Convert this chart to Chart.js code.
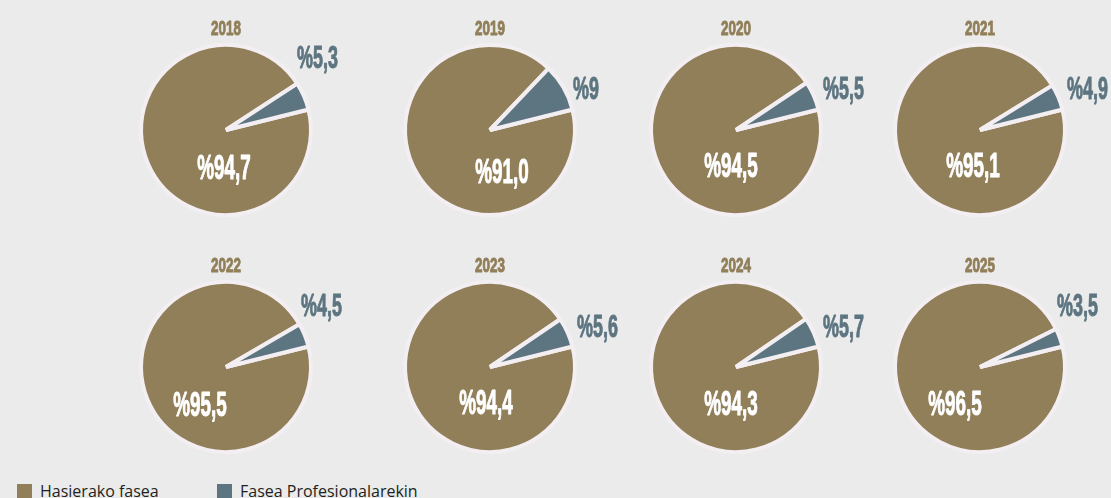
<!DOCTYPE html>
<html lang="eu">
<head>
<meta charset="utf-8">
<title>Hasierako fasea / Fasea Profesionalarekin</title>
<script src="https://cdn.jsdelivr.net/npm/chart.js@4.4.1/dist/chart.umd.min.js"></script>
<style>
    html, body { margin: 0; padding: 0; background: #ebebeb; }
    #oihala { position: relative; width: 1111px; height: 498px; overflow: hidden; }
    .tarta { position: absolute; width: 280px; height: 260px; }
    .legenda { position: absolute; top: 481px; left: 17px; font: 16px "Open Sans", sans-serif; color: #231f20; }
    .legenda span { position: absolute; white-space: nowrap; line-height: 20px; }
    .legenda i { display: inline-block; width: 15px; height: 15px; margin-right: 8px; vertical-align: -2px; }
</style>
</head>
<body>
<div id="oihala">
    <div class="legenda" id="legenda"></div>
</div>
<script>
// Datuak
const urteak = ['2018', '2019', '2020', '2021', '2022', '2023', '2024', '2025'];
const kategoriak = ['Hasierako fasea', 'Fasea Profesionalarekin'];
const hasierakoFasea = [94.7, 91.0, 94.5, 95.1, 95.5, 94.4, 94.3, 96.5];
const faseaProfesionala = [5.3, 9, 5.5, 4.9, 4.5, 5.6, 5.7, 3.5];

// Koloreak
const kolHasiera = '#917f59';
const kolProf = '#5d7580';
const kolErtza = '#f3eef1';

// Kokapenak (tarten zentroak eta etiketen desplazamenduak)
const zentroakX = [226, 490, 736, 980];
const zentroakY = [130, 367];
const etiketaNagusia = [[-2, 36], [12, 40], [-5, 34], [-7, 34], [-26, 36], [-4, 34], [-5, 35], [-25, 35]];
const etiketaTxikia = [[71, -73], [83, -42], [87, -42], [87, -42], [75, -62], [87, -41], [87, -41], [77, -62]];

function formatua(balioa, hamartarra) {
    const s = hamartarra ? balioa.toFixed(1) : String(balioa);
    return '%' + s.replace('.', ',');
}

// Testu estutua marraztu (letra-tipo kondentsatua imitatzeko)
function idatziTestua(ctx, testua, x, y, tamaina, eskala, kolorea, lerrokatzea) {
    ctx.save();
    ctx.translate(x, y);
    ctx.scale(eskala, 1);
    ctx.font = 'bold ' + tamaina + 'px "Liberation Sans", Arial, sans-serif';
    ctx.textAlign = lerrokatzea;
    ctx.textBaseline = 'alphabetic';
    ctx.fillStyle = kolorea;
    ctx.strokeStyle = kolorea;
    ctx.lineWidth = 1;
    ctx.lineJoin = 'round';
    const by = tamaina * 0.716 / 2;
    ctx.fillText(testua, 0, by);
    ctx.strokeText(testua, 0, by);
    ctx.restore();
}

const testuPlugin = {
    id: 'testuak',
    afterDatasetsDraw(chart, args, opts) {
        const ctx = chart.ctx;
        const arc = chart.getDatasetMeta(0).data[0];
        const cx = arc.x, cy = arc.y;
        const datuak = chart.data.datasets[0].data;
        idatziTestua(ctx, opts.urtea, cx, cy - 103, 21, 0.64, kolHasiera, 'center');
        idatziTestua(ctx, formatua(datuak[0], true), cx + opts.nagusia[0], cy + opts.nagusia[1], 35, 0.54, '#ffffff', 'center');
        idatziTestua(ctx, formatua(datuak[1], false), cx + opts.txikia[0], cy + opts.txikia[1], 32, 0.56, kolProf, 'left');
    }
};

// Tartak sortu
const oihala = document.getElementById('oihala');
urteak.forEach((urtea, i) => {
    const div = document.createElement('div');
    div.className = 'tarta';
    div.style.left = (zentroakX[i % 4] - 140) + 'px';
    div.style.top = (zentroakY[Math.floor(i / 4)] - 130) + 'px';
    const canvas = document.createElement('canvas');
    div.appendChild(canvas);
    oihala.appendChild(div);

    new Chart(canvas.getContext('2d'), {
        type: 'pie',
        data: {
            labels: kategoriak,
            datasets: [{
                data: [hasierakoFasea[i], faseaProfesionala[i]],
                backgroundColor: [kolHasiera, kolProf],
                borderColor: kolErtza,
                borderWidth: 4,
                radius: 85,
                rotation: 76
            }]
        },
        options: {
            responsive: true,
            maintainAspectRatio: false,
            animation: false,
            events: [],
            layout: { padding: 0 },
            plugins: {
                legend: { display: false },
                tooltip: { enabled: false },
                testuak: { urtea: urtea, nagusia: etiketaNagusia[i], txikia: etiketaTxikia[i] }
            }
        },
        plugins: [testuPlugin]
    });
});

// Legenda
const legenda = document.getElementById('legenda');
const legendaX = [0, 200];
kategoriak.forEach((izena, i) => {
    const span = document.createElement('span');
    span.style.left = legendaX[i] + 'px';
    span.innerHTML = '<i style="background:' + [kolHasiera, kolProf][i] + '"></i>' + izena;
    legenda.appendChild(span);
});
</script>
</body>
</html>
